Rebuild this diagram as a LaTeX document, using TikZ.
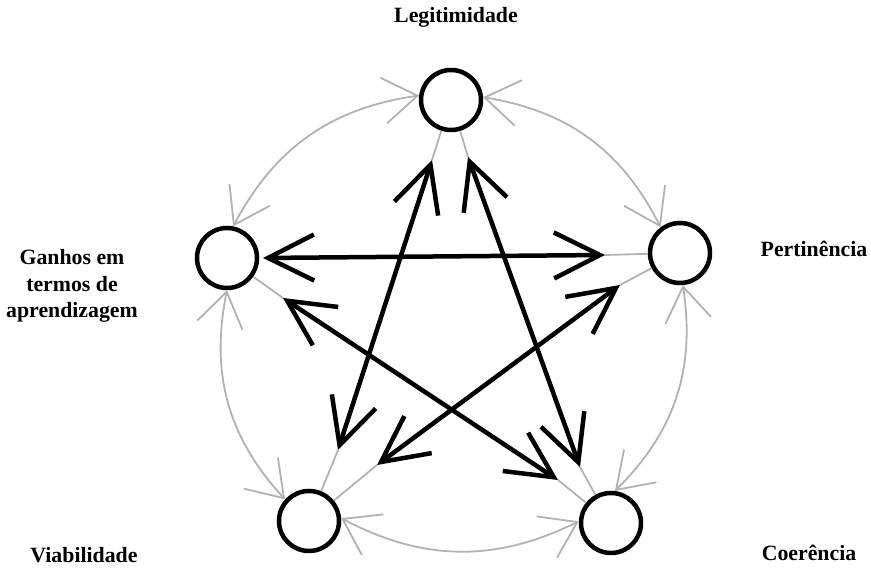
\documentclass[tikz,border=0pt]{standalone}
\usepackage{fontspec}
\setmainfont{Liberation Serif}
\usetikzlibrary{arrows.meta,calc}
\begin{document}
\begin{tikzpicture}[x=1pt,y=1pt,
  vertex/.style={circle,draw=black,line width=4.5pt,minimum size=60pt,inner sep=0pt,fill=white},
  lbl/.style={font=\fontsize{21.8}{26.5}\selectfont\bfseries,inner sep=0pt,align=center},
  ring/.style={draw=gray!60,line width=1.8pt,
    {Straight Barb[length=34pt,width=46pt]}-{Straight Barb[length=34pt,width=46pt]}},
  spoke/.style={draw=gray!60,line width=1.8pt},
  star/.style={draw=black,line width=4.5pt,
    {Straight Barb[length=46pt,width=46pt]}-{Straight Barb[length=46pt,width=46pt]}},
]
\useasboundingbox (0,0) rectangle (871,575);

% circles
\node[vertex] (T)  at (451,475) {};
\node[vertex] (L)  at (227,317) {};
\node[vertex] (R)  at (680,322) {};
\node[vertex] (BL) at (309,54) {};
\node[vertex] (BR) at (611,52) {};

% labels
\node[lbl,anchor=base] (tT) at (456,552) {Legitimidade};
\node[lbl,anchor=base] (tR) at (814,318) {Pertinência};
\node[lbl,anchor=base] (tBL) at (84,12) {Viabilidade};
\node[lbl,anchor=base] (tBR) at (809,14) {Coerência};
\node[lbl] (tL) at (72,289) {Ganhos em\\termos de\\aprendizagem};

% outer gray ring arrows
\draw[ring] (T.5) to[bend left=27] (R.127);
\draw[ring] (R.275) to[bend left=27] (BR.83);
\draw[ring] (BR.177) to[bend left=27] (BL.5);
\draw[ring] (BL.138) to[bend left=27] (L.270);
\draw[ring] (L.79) to[bend left=27] (T.172);

% black arrow tips
\coordinate (l1) at (263,317);
\coordinate (r1) at (605,320);
\coordinate (l2) at (283,277);
\coordinate (br2) at (558,95);
\coordinate (t3) at (432,415);
\coordinate (bl3) at (338,125);
\coordinate (t4) at (468,418);
\coordinate (br4) at (580,108);
\coordinate (r5) at (620,290);
\coordinate (bl5) at (377,110);

% thin gray spokes from tips to circles
\draw[spoke] (r1) -- (R);
\draw[spoke] (l2) -- (L);
\draw[spoke] (br2) -- (BR);
\draw[spoke] (t3) -- (T);
\draw[spoke] (bl3) -- (BL);
\draw[spoke] (t4) -- (T);
\draw[spoke] (br4) -- (BR);
\draw[spoke] (r5) -- (R);
\draw[spoke] (bl5) -- (BL);

% black star arrows
\draw[star] (l1) -- (r1);
\draw[star] (l2) -- (br2);
\draw[star] (t3) -- (bl3);
\draw[star] (t4) -- (br4);
\draw[star] (r5) -- (bl5);
\end{tikzpicture}
\end{document}
